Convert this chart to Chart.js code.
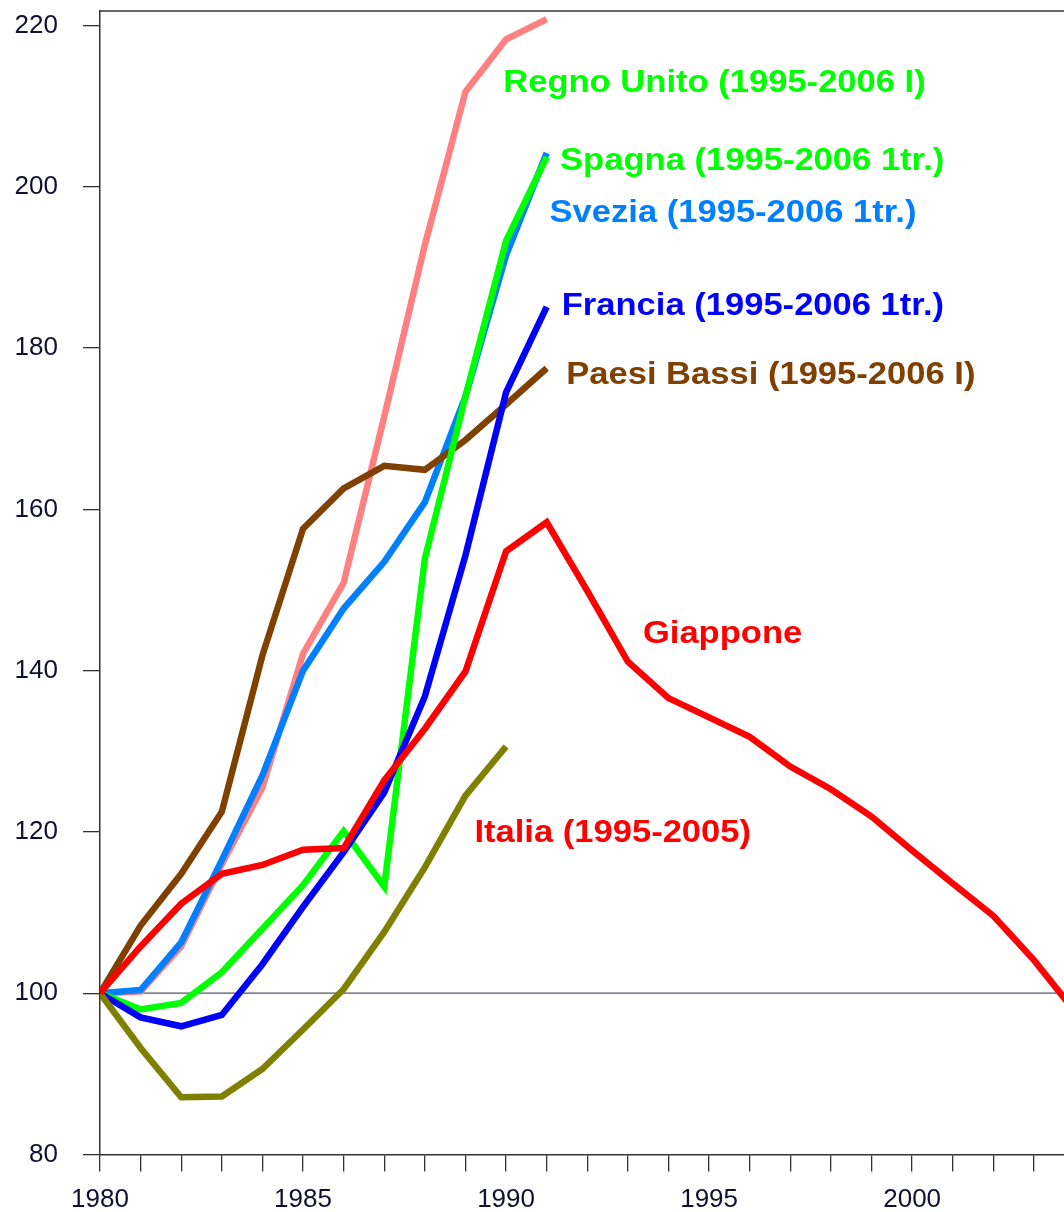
<!DOCTYPE html>
<html>
<head>
<meta charset="utf-8">
<script src="https://cdn.jsdelivr.net/npm/chart.js@4/dist/chart.umd.min.js"></script>
<style>
  html, body { margin: 0; padding: 0; background: #ffffff; }
  canvas { display: block; }
</style>
</head>
<body>
<canvas id="c" width="1064" height="1212"></canvas>
<script>
// ---- data (index numbers, 1980 = 100) ----
const years = [1980,1981,1982,1983,1984,1985,1986,1987,1988,1989,1990,1991,1992,1993,1994,1995,1996,1997,1998,1999,2000,2001,2002,2003,2004];
const giappone   = [100,105.8,111.1,114.8,115.9,117.8,118.0,126.4,132.8,139.9,154.8,158.4,149.9,141.1,136.6,134.2,131.8,128.1,125.3,121.9,117.7,113.6,109.6,104.1,97.8];
const italia     = [100,93.2,87.1,87.2,90.6,95.5,100.5,107.6,115.6,124.5,130.6];
const francia    = [100,97.0,95.9,97.3,103.6,110.7,117.5,124.9,136.8,154.3,174.5,185.1];
const spagna     = [100,98.0,98.8,102.6,108.0,113.4,120.1,113.2,153.9,174.0,193.3,203.7];
const paesiBassi = [100,108.4,114.8,122.5,141.9,157.6,162.6,165.4,164.9,168.6,173.0,177.5];
const svezia     = [100,100.4,106.3,116.5,127.0,140.0,147.7,153.5,160.9,174.0,191.5,204.2];
const regnoUnito = [100,100.2,105.8,116.0,125.5,142.1,150.9,171.5,192.8,211.8,218.3,220.8];

const yTickValues = [80,100,120,140,160,180,200,220];
const xTickLabels = [1980,1985,1990,1995,2000];

const seriesNames  = ['Giappone','Italia','Francia','Spagna','Paesi Bassi','Svezia','Regno Unito'];
const seriesValues = [giappone, italia, francia, spagna, paesiBassi, svezia, regnoUnito];
const seriesColors = ['#FF0000','#808000','#0000FF','#00FF00','#804000','#0080FF','#FF8080'];

// annotation texts, anchored in data coordinates (year, index value) at left/baseline
const noteTexts  = ['Regno Unito (1995-2006 I)','Spagna (1995-2006 1tr.)','Svezia (1995-2006 1tr.)','Francia (1995-2006 1tr.)','Paesi Bassi (1995-2006 I)','Giappone','Italia (1995-2005)'];
const noteColors = ['#00FF00','#00FF00','#0080FF','#0000FF','#804000','#FF0000','#FF0000'];
const noteYears  = [1989.93,1991.33,1991.07,1991.37,1991.48,1993.37,1989.22];
const noteValues = [211.8,202.1,195.6,184.1,175.5,143.4,118.8];

const AXIS_COLOR = '#333333';
const TICK_TEXT = '#101030';

const datasets = seriesValues.map((vals, i) => ({
  label: seriesNames[i],
  data: vals.map((v, j) => ({ x: years[j], y: v })),
  borderColor: seriesColors[i],
  backgroundColor: seriesColors[i],
  borderWidth: 6.5,
  pointRadius: 0,
  tension: 0,
  fill: false
}));

const framePlugin = {
  id: 'frame',
  beforeDatasetsDraw(chart) {
    const { ctx, chartArea, scales } = chart;
    ctx.save();
    ctx.strokeStyle = AXIS_COLOR;
    ctx.lineWidth = 1.5;
    ctx.beginPath();
    ctx.moveTo(chartArea.left, chartArea.top);
    ctx.lineTo(chartArea.right, chartArea.top);
    ctx.stroke();
    const y100 = scales.y.getPixelForValue(100);
    ctx.strokeStyle = '#555566';
    ctx.lineWidth = 1.3;
    ctx.beginPath();
    ctx.moveTo(chartArea.left, y100);
    ctx.lineTo(chartArea.right, y100);
    ctx.stroke();
    ctx.restore();
  }
};

const notesPlugin = {
  id: 'notes',
  afterDatasetsDraw(chart) {
    const { ctx, scales } = chart;
    ctx.save();
    ctx.font = 'bold 32px "Liberation Sans", Arial, sans-serif';
    ctx.textAlign = 'left';
    ctx.textBaseline = 'alphabetic';
    noteTexts.forEach((t, i) => {
      const px = scales.x.getPixelForValue(noteYears[i]);
      const py = scales.y.getPixelForValue(noteValues[i]);
      ctx.save();
      ctx.translate(px, py);
      ctx.scale(1.08, 1);
      ctx.fillStyle = noteColors[i];
      ctx.fillText(t, 0, 0);
      ctx.restore();
    });
    ctx.restore();
  }
};

new Chart(document.getElementById('c'), {
  type: 'line',
  data: { datasets },
  options: {
    responsive: false,
    devicePixelRatio: 1,
    animation: false,
    layout: { padding: { top: 11, left: 0, right: 0, bottom: 0 } },
    plugins: { legend: { display: false }, tooltip: { enabled: false } },
    scales: {
      x: {
        type: 'linear',
        min: 1980,
        max: 2003.74,
        afterBuildTicks(scale) {
          scale.ticks = years.filter(y => y >= scale.min && y <= scale.max).map(y => ({ value: y }));
        },
        afterFit(scale) {
          scale.height = 57.5;
          scale.paddingLeft = 0;
          scale.paddingRight = 0;
        },
        ticks: {
          autoSkip: false,
          maxRotation: 0,
          minRotation: 0,
          padding: 13,
          color: TICK_TEXT,
          font: { family: '"Liberation Sans", Arial, sans-serif', size: 26 },
          callback: (v) => xTickLabels.includes(v) ? String(v) : ''
        },
        grid: { drawOnChartArea: false, drawTicks: true, tickLength: 17, color: AXIS_COLOR, lineWidth: 1.3 },
        border: { display: true, color: AXIS_COLOR, width: 1.5 }
      },
      y: {
        type: 'linear',
        min: 80,
        max: 221.8,
        afterBuildTicks(scale) {
          scale.ticks = yTickValues.map(v => ({ value: v }));
        },
        afterFit(scale) {
          scale.width = 100;
          scale.paddingTop = 0;
          scale.paddingBottom = 0;
        },
        ticks: {
          padding: 25,
          color: TICK_TEXT,
          font: { family: '"Liberation Sans", Arial, sans-serif', size: 26 },
          callback: (v) => String(v)
        },
        grid: { drawOnChartArea: false, drawTicks: true, tickLength: 17, color: AXIS_COLOR, lineWidth: 1.3 },
        border: { display: true, color: AXIS_COLOR, width: 1.5 }
      }
    }
  },
  plugins: [framePlugin, notesPlugin]
});
</script>
</body>
</html>
